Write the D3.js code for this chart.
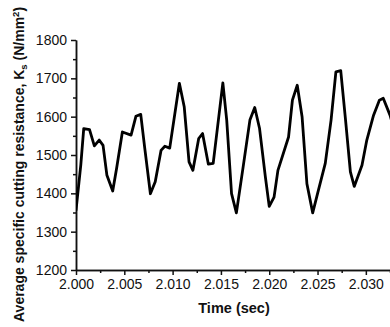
<!DOCTYPE html>
<html>
<head>
    <meta charset="utf-8">
    <title>cutting-resistance</title>
    <style>
        body { margin: 0; background: #fff; }
        .tick text { font-family: "Liberation Sans", Arial, sans-serif; font-size: 14px; fill: #111; }
        .axis path, .axis line { stroke: #111; stroke-width: 1.5px; }
        .title { font-family: "Liberation Sans", Arial, sans-serif; font-weight: bold; fill: #111; }
    </style>
</head>
<body>
    <svg width="390" height="327"></svg>

    <script src="https://cdn.jsdelivr.net/npm/d3@7"></script>
    <script>

    // time (sec) of each vertex
    var times = [2.0000, 2.0005, 2.0008, 2.0014, 2.0019, 2.0024, 2.0028, 2.0032, 2.0038, 2.0042,
        2.0048, 2.0057, 2.0062, 2.0067, 2.0071, 2.0077, 2.0082, 2.0088, 2.0092, 2.0097,
        2.0107, 2.0112, 2.0117, 2.0121, 2.0127, 2.0131, 2.0137, 2.0142, 2.0152, 2.0156,
        2.0161, 2.0166, 2.0173, 2.0180, 2.0185, 2.0190, 2.0196, 2.0200, 2.0205, 2.0209,
        2.0220, 2.0224, 2.0229, 2.0234, 2.0239, 2.0245, 2.0250, 2.0258, 2.0264, 2.0269,
        2.0274, 2.0279, 2.0284, 2.0288, 2.0296, 2.0301, 2.0308, 2.0314, 2.0318, 2.0325, 2.0330]
    // Ks (N/mm2)
    var ks = [1355, 1475, 1569, 1566, 1524, 1539, 1525, 1447, 1406, 1465,
        1560, 1552, 1601, 1606, 1521, 1399, 1430, 1512, 1523, 1518,
        1687, 1626, 1482, 1460, 1543, 1556, 1476, 1478, 1688, 1591,
        1399, 1349, 1469, 1591, 1624, 1569, 1443, 1366, 1390, 1460,
        1547, 1643, 1682, 1600, 1425, 1349, 1399, 1478, 1591, 1717,
        1720, 1591, 1456, 1418, 1473, 1539, 1604, 1643, 1648, 1604, 1560]

    var xTicks = [2.000, 2.005, 2.010, 2.015, 2.020, 2.025, 2.030]
    var yTicks = [1200, 1300, 1400, 1500, 1600, 1700, 1800]

    var svg = d3.select('svg')
    var mLeft = 76, mRight = 390, mTop = 40, mBottom = 270

    var x = d3.scaleLinear().domain([2.000, 2.0325]).range([mLeft, mRight])
    var y = d3.scaleLinear().domain([1200, 1800]).range([mBottom, mTop])

    // minor ticks first, then major
    svg.append('g').attr('class', 'axis')
        .attr('transform', 'translate(0,' + mBottom + ')')
        .call(d3.axisBottom(x).tickValues(xTicks.map(function(d){ return d + 0.0025 }))
            .tickSize(3).tickSizeOuter(0).tickFormat(''))
    svg.append('g').attr('class', 'axis')
        .attr('transform', 'translate(' + mLeft + ',0)')
        .call(d3.axisLeft(y).tickValues(yTicks.slice(0, -1).map(function(d){ return d + 50 }))
            .tickSize(3).tickSizeOuter(0).tickFormat(''))

    svg.append('g').attr('class', 'axis')
        .attr('transform', 'translate(0,' + mBottom + ')')
        .call(d3.axisBottom(x).tickValues(xTicks).tickSize(5).tickSizeOuter(0)
            .tickFormat(d3.format('.3f')))
        .selectAll('text').attr('y', 9)

    svg.append('g').attr('class', 'axis')
        .attr('transform', 'translate(' + mLeft + ',0)')
        .call(d3.axisLeft(y).tickValues(yTicks).tickSize(5).tickSizeOuter(0)
            .tickFormat(d3.format('d')))
        .selectAll('text').attr('x', -9)

    svg.append('clipPath').attr('id', 'plot')
        .append('rect').attr('x', mLeft).attr('y', 0).attr('width', mRight - mLeft).attr('height', mBottom)

    var line = d3.line()
        .x(function(d, i){ return x(times[i]) })
        .y(function(d){ return y(d) })

    svg.append('path')
        .datum(ks)
        .attr('clip-path', 'url(#plot)')
        .attr('d', line)
        .attr('fill', 'none')
        .attr('stroke', '#000')
        .attr('stroke-width', 2.8)
        .attr('stroke-linejoin', 'round')

    // axis titles
    svg.append('text').attr('class', 'title')
        .attr('x', (mLeft + mRight) / 2 + 1).attr('y', 313)
        .attr('text-anchor', 'middle')
        .style('font-size', '14.5px')
        .text('Time (sec)')

    var yt = svg.append('text').attr('class', 'title')
        .attr('transform', 'translate(24,322) rotate(-90)')
        .style('font-size', '14px')
    yt.append('tspan').text('Average specific cutting resistance, K')
    yt.append('tspan').attr('dy', 3).style('font-size', '9.5px').text('s')
    yt.append('tspan').attr('dy', -3).text(' (N/mm')
    yt.append('tspan').attr('dy', -5).style('font-size', '9.5px').text('2')
    yt.append('tspan').attr('dy', 5).text(')')

    </script>
</body>
</html>
